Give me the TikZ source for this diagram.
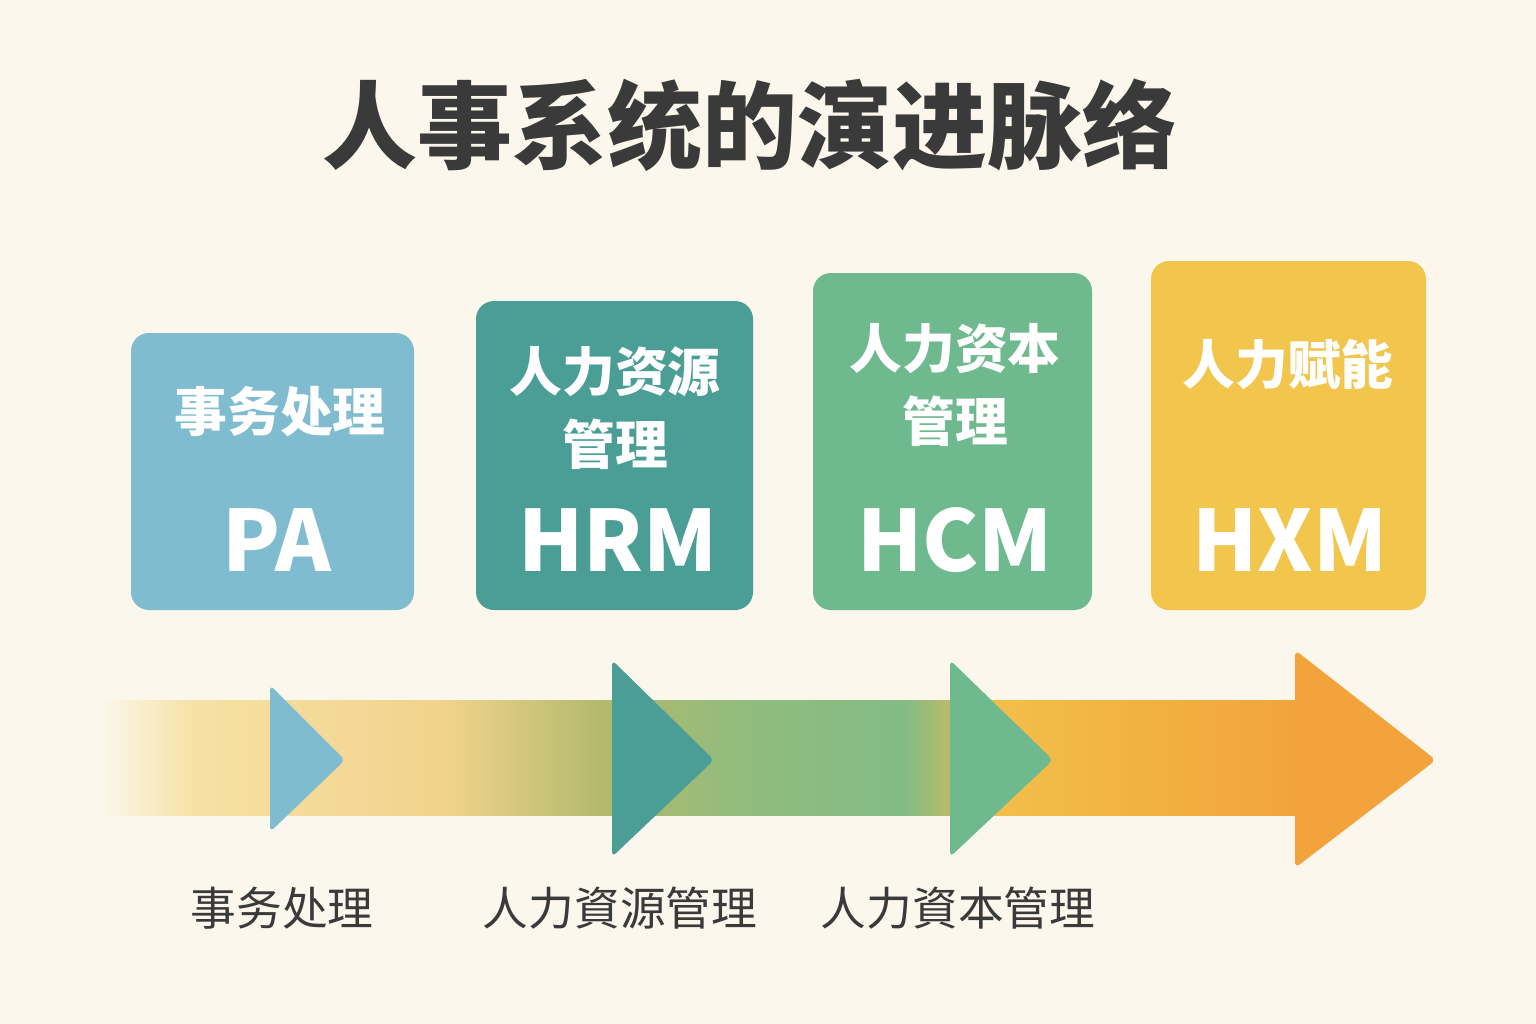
\documentclass[tikz,border=0pt]{standalone}
\usepackage{fontspec}
\setmainfont{Noto Sans CJK SC}
\usetikzlibrary{positioning}
\definecolor{paper}{HTML}{FBF7EC}
\definecolor{titlegray}{HTML}{3A3A3A}
\definecolor{pablue}{HTML}{80BCCF}
\definecolor{hrmteal}{HTML}{4A9E96}
\definecolor{hcmgreen}{HTML}{6FB98F}
\definecolor{hxmyellow}{HTML}{F2C54C}
\definecolor{arroworange}{HTML}{F2A33C}
\pgfdeclarehorizontalshading{bandfade}{100bp}{color(0bp)=(paper); color(25bp)=(paper); color(29bp)=(hxmyellow!45!paper); color(39.5bp)=(hxmyellow!55!paper!90!brown); color(46bp)=(hxmyellow!55!hcmgreen!90!gray); color(52bp)=(hcmgreen!75!hxmyellow); color(58.5bp)=(hcmgreen!85!hxmyellow); color(62.5bp)=(hxmyellow!80!arroworange); color(75bp)=(arroworange); color(100bp)=(arroworange)}
\tikzset{
  stagebox/.style={rounded corners=0.18cm,draw=none},
  stagename/.style={text=white,font=\fontsize{15}{21}\selectfont\bfseries,align=center},
  stagecode/.style={text=white,font=\fontsize{24}{28}\selectfont\bfseries},
  marker/.style={rounded corners=0.05cm,draw=none},
  bottomlabel/.style={text=titlegray,font=\fontsize{13}{16}\selectfont}
}
\begin{document}
\begin{tikzpicture}[x=0.01cm,y=-0.01cm]
    \fill[paper] (0,0) rectangle (1536,1024);
    \useasboundingbox (0,0) rectangle (1536,1024);
    % title
    \node[text=titlegray,font=\fontsize{27}{32}\selectfont\bfseries] (title) at (750,125) {人事系统的演进脉络};
    % timeline band
    \shade[shading=bandfade] (100,700) rectangle (1300,815);
    \fill[arroworange,rounded corners=0.06cm] (1295,650) -- (1436,760) -- (1295,868) -- cycle;
    % stage boxes
    \fill[stagebox,pablue] (131,333) rectangle (414,610);
    \fill[stagebox,hrmteal] (476,301) rectangle (753,610);
    \fill[stagebox,hcmgreen] (813,273) rectangle (1092,610);
    \fill[stagebox,hxmyellow] (1151,261) rectangle (1426,610);
    \node[stagename] (paname) at (280,412) {事务处理};
    \node[stagecode] (pacode) at (277,540) {PA};
    \node[stagename] (hrmname) at (615,408) {人力资源\\管理};
    \node[stagecode] (hrmcode) at (618,540) {HRM};
    \node[stagename] (hcmname) at (955,385) {人力资本\\管理};
    \node[stagecode] (hcmcode) at (955,540) {HCM};
    \node[stagename] (hxmname) at (1288,365) {人力赋能};
    \node[stagecode] (hxmcode) at (1290,540) {HXM};
    % markers
    \fill[marker,pablue] (270,685) -- (345,760) -- (270,832) -- cycle;
    \fill[marker,hrmteal] (612,660) -- (714,760) -- (612,857) -- cycle;
    \fill[marker,hcmgreen] (950,660) -- (1053,760) -- (950,857) -- cycle;
    % bottom labels
    \node[bottomlabel] (palabel) at (282,908) {事务处理};
    \node[bottomlabel] (hrmlabel) at (620,908) {人力資源管理};
    \node[bottomlabel] (hcmlabel) at (958,908) {人力資本管理};
  \end{tikzpicture}
\end{document}
